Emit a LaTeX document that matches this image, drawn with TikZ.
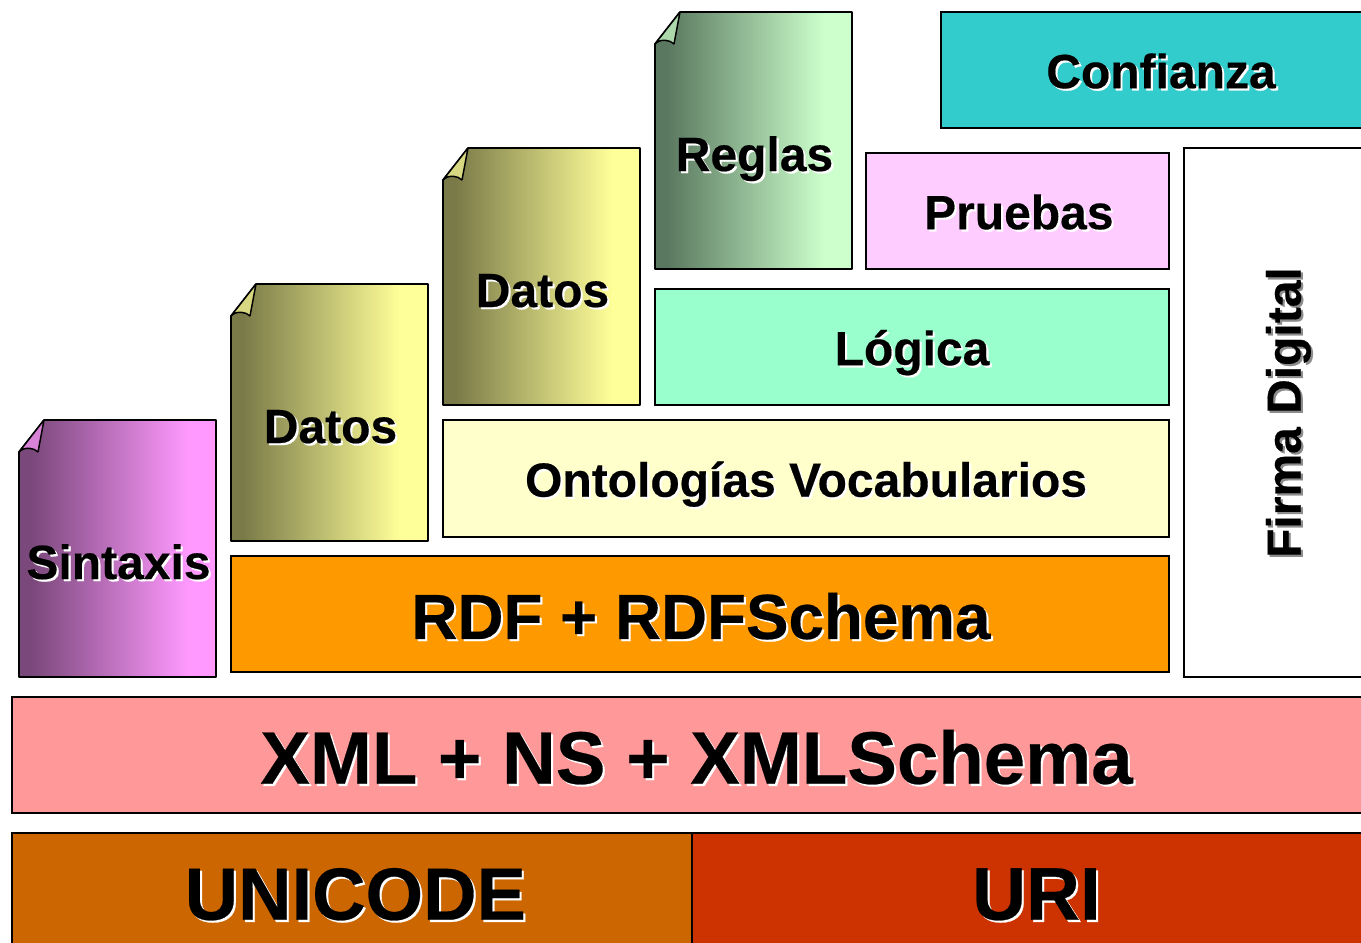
\documentclass[tikz,border=0pt]{standalone}
\usepackage{fontspec}
\setmainfont{Liberation Sans}[BoldFeatures={FakeBold=0.35}]
\definecolor{purpD}{RGB}{122,72,122}
\definecolor{purpL}{RGB}{255,153,255}
\definecolor{purpF}{RGB}{216,130,216}
\definecolor{oliveD}{RGB}{122,122,72}
\definecolor{oliveL}{RGB}{255,255,153}
\definecolor{oliveF}{RGB}{216,216,130}
\definecolor{greenD}{RGB}{90,120,95}
\definecolor{greenL}{RGB}{204,255,204}
\definecolor{greenF}{RGB}{172,216,172}
\pgfdeclarehorizontalshading{purpS}{100bp}{color(0bp)=(purpD); color(28bp)=(purpD); color(68bp)=(purpL); color(100bp)=(purpL)}
\pgfdeclarehorizontalshading{oliveS}{100bp}{color(0bp)=(oliveD); color(28bp)=(oliveD); color(68bp)=(oliveL); color(100bp)=(oliveL)}
\pgfdeclarehorizontalshading{greenS}{100bp}{color(0bp)=(greenD); color(28bp)=(greenD); color(68bp)=(greenL); color(100bp)=(greenL)}
\newcommand\shtxt[1]{{\color{white}\rlap{\kern1.6pt\raisebox{-1.6pt}{#1}}}#1}
\newcommand\shgray[1]{{\color{black!45}\rlap{\kern-1.6pt\raisebox{-1.6pt}{#1}}}#1}
\tikzset{
  panel/.style={draw=black,line width=1.1pt,inner sep=0pt,outer sep=0pt,text=black},
  size/.style={font=\fontsize{#1}{#1}\selectfont\bfseries,text height=0.716*#1 pt+1.5pt,text depth=0pt},
  sheet/.style={draw=black,line width=1.3pt,line join=bevel},
  curl/.style={draw=black,line width=1.1pt,line join=bevel},
  sheetlabel/.style={inner sep=0pt,anchor=base,font=\fontsize{36}{36}\selectfont\bfseries}
}
% name, left x, top y, shading, fold colour, text
\newcommand\sheetshape[6]{%
  \begin{scope}[shift={(#2,#3)}]
    \path[sheet,shading=#4] (25,0) -- (197,0) -- (197,257) -- (0,257) -- (0,32) -- cycle;
    \path[curl,fill=#5] (25,0) -- (19,32) .. controls (15,28) and (6,26) .. (0,32) -- cycle;
    \node[sheetlabel] (#1) at (99.5,159) {\shtxt{#6}};
  \end{scope}}
\begin{document}
\begin{tikzpicture}[x=0.75pt,y=-0.75pt]
\useasboundingbox (0,0) rectangle (1361,943);
\clip (0,0) rectangle (1361,943);
\sheetshape{sintaxis}{19}{420}{purpS}{purpF}{Sintaxis}
\sheetshape{datosa}{231}{284}{oliveS}{oliveF}{Datos}
\sheetshape{datosb}{443}{148}{oliveS}{oliveF}{Datos}
\sheetshape{reglas}{655}{12}{greenS}{greenF}{Reglas}
\node[panel,size=36,fill=white,minimum width=529*0.75pt,minimum height=197*0.75pt,rotate=90] at (1282.5,412.5) (firma) {\shgray{Firma Digital}};
\node[panel,size=36,fill={rgb,255:red,51;green,204;blue,204},minimum width=440*0.75pt,minimum height=116*0.75pt] at (1161,70) (confianza) {\shtxt{Confianza}};
\node[panel,size=36,fill={rgb,255:red,255;green,204;blue,255},minimum width=303*0.75pt,minimum height=116*0.75pt] at (1017.5,211) (pruebas) {\kern2pt\shtxt{Pruebas}};
\node[panel,size=36,fill={rgb,255:red,153;green,255;blue,204},minimum width=514*0.75pt,minimum height=116*0.75pt] at (912,347) (logica) {\shtxt{Lógica}};
\node[panel,size=36,fill={rgb,255:red,255;green,255;blue,204},minimum width=726*0.75pt,minimum height=117*0.75pt] at (806,478.5) (ontologias) {\shtxt{Ontologías Vocabularios}};
\node[panel,size=47.8,text height=37.4pt,fill={rgb,255:red,255;green,153;blue,0},minimum width=938*0.75pt,minimum height=116*0.75pt] at (700,614) (rdf) {\kern1.5pt\shtxt{RDF + RDFSchema}};
\node[panel,size=55.8,text height=43.1pt,fill={rgb,255:red,255;green,153;blue,153},minimum width=1369*0.75pt,minimum height=116*0.75pt] at (696.5,755) (xml) {\shtxt{XML + NS + XMLSchema}};
\node[panel,size=55.5,text height=40.1pt,fill={rgb,255:red,204;green,102;blue,0},minimum width=680*0.75pt,minimum height=120*0.75pt] at (352,893) (unicode) {\kern5pt\shtxt{UNICODE}};
\node[panel,size=56,text height=40.1pt,fill={rgb,255:red,204;green,51;blue,0},minimum width=689*0.75pt,minimum height=120*0.75pt] at (1036.5,893) (uri) {\shtxt{URI}};
\end{tikzpicture}
\end{document}
